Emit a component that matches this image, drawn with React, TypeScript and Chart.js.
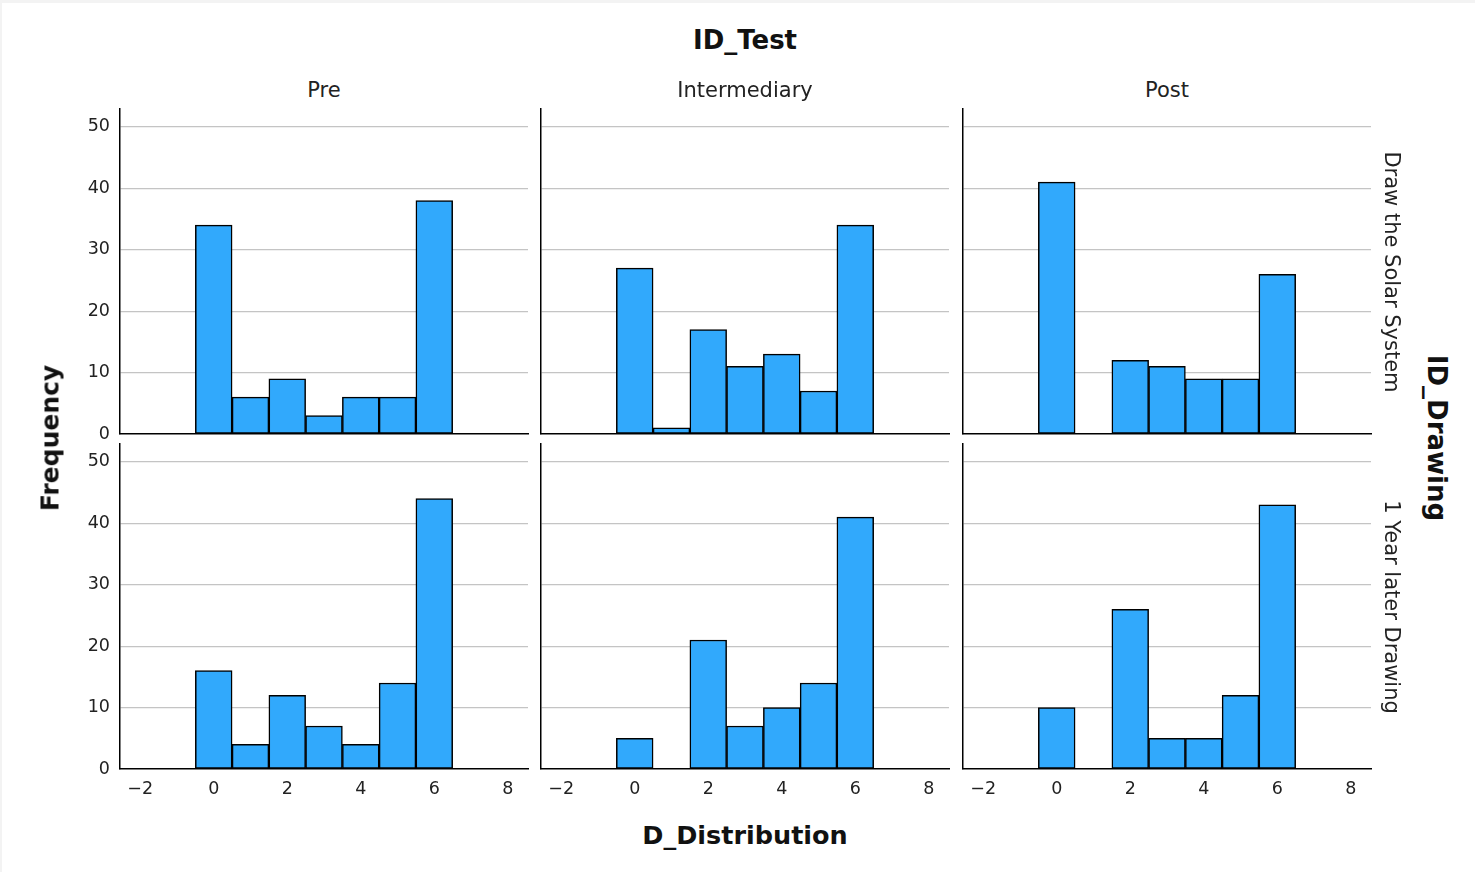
import React, { useEffect, useRef } from 'react';
import { Chart, registerables } from 'chart.js';

Chart.register(...registerables);

// ---- data ----
const binCenters = [0, 1, 2, 3, 4, 5, 6];
const testLabels = ['Pre', 'Intermediary', 'Post'];
const drawingLabels = ['Draw the Solar System', '1 Year later Drawing'];

const solarPre = [34, 6, 9, 3, 6, 6, 38];
const solarIntermediary = [27, 1, 17, 11, 13, 7, 34];
const solarPost = [41, 0, 12, 11, 9, 9, 26];
const laterPre = [16, 4, 12, 7, 4, 14, 44];
const laterIntermediary = [5, 0, 21, 7, 10, 14, 41];
const laterPost = [10, 0, 26, 5, 5, 12, 43];

const panelValues = [
  [solarPre, solarIntermediary, solarPost],
  [laterPre, laterIntermediary, laterPost],
];

const xMin = -2.55;
const xMax = 8.55;
const yMax = 52.9;

// ---- layout ----
const COL_LEFT = [120, 541, 963];
const AREA_W = 408;
const ROW_TOP = [109, 444];
const AREA_H = 325;
const Y_W = 60;
const TOP_PAD = 6;
const RIGHT_PAD = 12;
const X_H = 44;

const FONT = "'DejaVu Sans', sans-serif";

function Panel({ values, row, col }: { values: number[]; row: number; col: number }) {
  const ref = useRef<HTMLCanvasElement | null>(null);
  const w = Y_W + AREA_W + RIGHT_PAD;
  const h = TOP_PAD + AREA_H + X_H;
  useEffect(() => {
    if (!ref.current) return;
    const showY = col === 0;
    const showX = row === 1;
    const chart = new Chart(ref.current, {
      type: 'bar',
      data: {
        datasets: [
          {
            data: binCenters.map((x, i) => ({ x, y: values[i] })),
            backgroundColor: '#31a9fc',
            borderColor: '#000000',
            borderWidth: 1.5,
            borderSkipped: false,
            barPercentage: 1,
            categoryPercentage: 1,
          },
        ],
      },
      options: {
        responsive: false,
        animation: false,
        events: [],
        layout: { padding: { top: TOP_PAD, right: RIGHT_PAD, left: 0, bottom: 0 } },
        plugins: { legend: { display: false }, tooltip: { enabled: false } },
        scales: {
          x: {
            type: 'linear',
            min: xMin,
            max: xMax,
            offset: false,
            grid: { display: false, drawTicks: false },
            border: { display: true, color: '#000', width: 1.5 },
            ticks: {
              display: showX,
              stepSize: 2,
              includeBounds: false,
              padding: 10,
              color: '#222',
              font: { family: FONT, size: 17.5 },
              callback: (v: any) => String(v).replace('-', '\u2212'),
            },
            afterFit: (s: any) => {
              s.height = X_H;
              s.paddingLeft = 0;
              s.paddingRight = 0;
            },
          },
          y: {
            type: 'linear',
            min: 0,
            max: yMax,
            grid: {
              drawTicks: false,
              color: (ctx: any) => (ctx.tick && ctx.tick.value === 0 ? 'rgba(0,0,0,0)' : '#c4c4c4'),
              lineWidth: 1.2,
            },
            border: { display: true, color: '#000', width: 1.5 },
            ticks: {
              display: showY,
              stepSize: 10,
              includeBounds: false,
              padding: 10,
              color: '#222',
              font: { family: FONT, size: 17.5 },
            },
            afterFit: (s: any) => {
              s.width = Y_W;
              s.paddingTop = 0;
              s.paddingBottom = 0;
            },
          },
        },
      },
    } as any);
    return () => chart.destroy();
  }, [values, row, col]);
  return (
    <canvas
      ref={ref}
      width={w}
      height={h}
      style={{
        position: 'absolute',
        left: COL_LEFT[col] - Y_W,
        top: ROW_TOP[row] - TOP_PAD,
        width: w,
        height: h,
      }}
    />
  );
}

function Label({
  text,
  x,
  y,
  size,
  bold,
  rotate,
}: {
  text: string;
  x: number;
  y: number;
  size: number;
  bold?: boolean;
  rotate?: number;
}) {
  return (
    <div
      style={{
        position: 'absolute',
        left: x,
        top: y,
        transform: `translate(-50%, -50%) rotate(${rotate || 0}deg)`,
        fontFamily: FONT,
        fontSize: size,
        fontWeight: bold ? 'bold' : 'normal',
        color: bold ? '#111' : '#222',
        whiteSpace: 'nowrap',
        lineHeight: 1,
      }}
    >
      {text}
    </div>
  );
}

export default function App() {
  return (
    <div
      style={{
        position: 'fixed',
        left: 0,
        top: 0,
        width: 1475,
        height: 872,
        background: '#f3f3f3',
        overflow: 'hidden',
      }}
    >
      <div
        style={{
          position: 'absolute',
          left: 2,
          top: 3,
          right: 0,
          bottom: 0,
          background: '#ffffff',
        }}
      />
      {panelValues.map((rowVals, r) =>
        rowVals.map((vals, c) => <Panel key={`${r}-${c}`} values={vals} row={r} col={c} />)
      )}
      <Label text="ID_Test" x={745} y={40} size={26} bold />
      {testLabels.map((t, c) => (
        <Label key={t} text={t} x={COL_LEFT[c] + AREA_W / 2} y={90} size={21} />
      ))}
      <Label text="Frequency" x={50} y={438} size={25} bold rotate={-90} />
      <Label text="D_Distribution" x={745} y={836} size={25.5} bold />
      {drawingLabels.map((t, r) => (
        <Label key={t} text={t} x={1391} y={ROW_TOP[r] + AREA_H / 2} size={21} rotate={90} />
      ))}
      <Label text="ID_Drawing" x={1437} y={438} size={26} bold rotate={90} />
    </div>
  );
}
